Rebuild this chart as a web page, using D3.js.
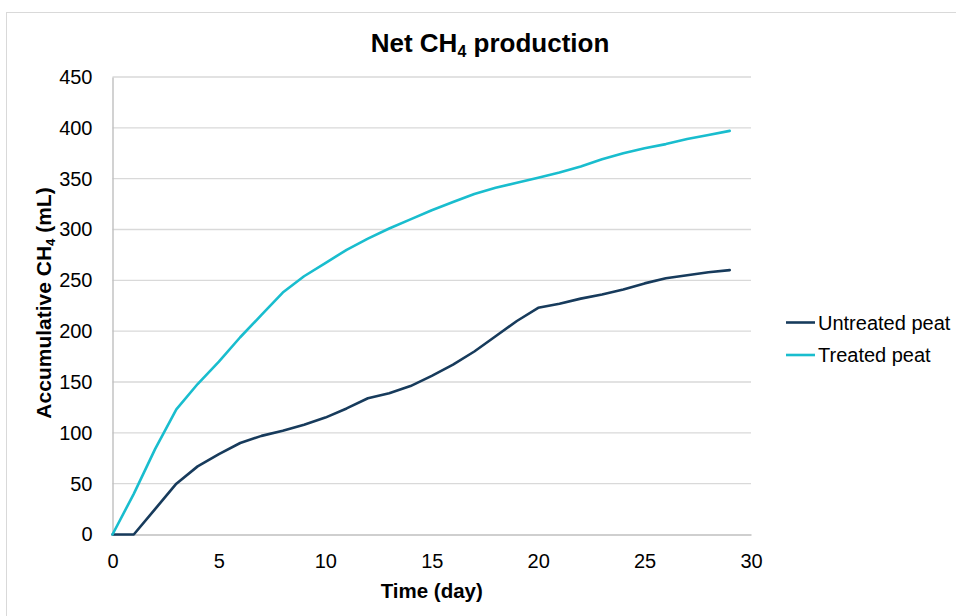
<!DOCTYPE html>
<html>
<head>
<meta charset="utf-8">
<script src="https://cdn.jsdelivr.net/npm/d3@7"></script>
<style>
  html, body { margin: 0; padding: 0; background: #fff; }
  svg { display: block; font-family: "Liberation Sans", Arial, Helvetica, sans-serif; }
</style>
</head>
<body>
<svg id="chart" width="956" height="616"></svg>
<script>
// Net CH4 production over 29 days, cumulative volume (mL)
const days = d3.range(0, 30);
const untreatedPeat = [0, 0, 25, 50, 67, 79, 90, 97, 102, 108, 115, 124, 134, 139, 146,
                       156, 167, 180, 195, 210, 223, 227, 232, 236, 241, 247, 252, 255, 258, 260];
const treatedPeat   = [0, 40, 84, 123, 148, 170, 194, 216, 238, 254, 267, 280, 291, 301, 310,
                       319, 327, 335, 341, 346, 351, 356, 362, 369, 375, 380, 384, 389, 393, 397];
const seriesNames = ["Untreated peat", "Treated peat"];
const seriesColors = ["#173b5c", "#19bdce"];
const xTicks = [0, 5, 10, 15, 20, 25, 30];
const yTicks = [0, 50, 100, 150, 200, 250, 300, 350, 400, 450];

const svg = d3.select("#chart");
const plot = { left: 112.5, right: 751, top: 77, bottom: 534.5 };

const x = d3.scaleLinear().domain([0, 30]).range([plot.left, plot.right]);
const y = d3.scaleLinear().domain([0, 450]).range([plot.bottom, plot.top]);

// chart frame
svg.append("rect")
  .attr("x", 6.5).attr("y", 12.5)
  .attr("width", 1000).attr("height", 700)
  .attr("fill", "#fff").attr("stroke", "#d9d9d9").attr("stroke-width", 1);

// horizontal gridlines
svg.append("g")
  .selectAll("line")
  .data(yTicks.filter(v => v > 0))
  .join("line")
  .attr("x1", plot.left).attr("x2", plot.right)
  .attr("y1", d => y(d)).attr("y2", d => y(d))
  .attr("stroke", "#d9d9d9").attr("stroke-width", 1.4);

// y axis
const yAxis = svg.append("g")
  .attr("transform", `translate(${plot.left},0)`)
  .call(d3.axisLeft(y).tickValues(yTicks).tickSize(0).tickPadding(20));
yAxis.select(".domain").attr("stroke", "#bfbfbf").attr("stroke-width", 1.4);
yAxis.selectAll("text").attr("font-size", 20).attr("fill", "#000")
  .attr("font-family", "'Liberation Sans', Arial, sans-serif");

// x axis
const xAxis = svg.append("g")
  .attr("transform", `translate(0,${plot.bottom})`)
  .call(d3.axisBottom(x).tickValues(xTicks).tickSize(0).tickPadding(19));
xAxis.select(".domain").attr("stroke", "#bfbfbf").attr("stroke-width", 1.4);
xAxis.selectAll("text").attr("font-size", 20).attr("fill", "#000")
  .attr("font-family", "'Liberation Sans', Arial, sans-serif");

// series lines
const line = d3.line().x((d, i) => x(days[i])).y(d => y(d));
[untreatedPeat, treatedPeat].forEach((vals, k) => {
  svg.append("path")
    .datum(vals)
    .attr("d", line)
    .attr("fill", "none")
    .attr("stroke", seriesColors[k])
    .attr("stroke-width", 2.6)
    .attr("stroke-linejoin", "round")
    .attr("stroke-linecap", "round");
});

// title
const title = svg.append("text")
  .attr("x", 490).attr("y", 52)
  .attr("text-anchor", "middle")
  .attr("font-size", 26).attr("font-weight", "bold").attr("fill", "#000");
title.append("tspan").text("Net CH");
title.append("tspan").attr("font-size", 16).attr("dy", 5).text("4");
title.append("tspan").attr("dy", -5).text(" production");

// x axis title
svg.append("text")
  .attr("x", x(15)).attr("y", 598)
  .attr("text-anchor", "middle")
  .attr("font-size", 20.5).attr("font-weight", "bold").attr("fill", "#000")
  .text("Time (day)");

// y axis title
const yTitle = svg.append("text")
  .attr("transform", `translate(51,303) rotate(-90)`)
  .attr("text-anchor", "middle")
  .attr("font-size", 21).attr("font-weight", "bold").attr("fill", "#000");
yTitle.append("tspan").text("Accumulative CH");
yTitle.append("tspan").attr("font-size", 13).attr("dy", 4).text("4");
yTitle.append("tspan").attr("dy", -4).text(" (mL)");

// legend
const legend = svg.append("g");
seriesNames.forEach((name, k) => {
  const ly = 322.5 + k * 32.5;
  legend.append("line")
    .attr("x1", 786).attr("x2", 815)
    .attr("y1", ly).attr("y2", ly)
    .attr("stroke", seriesColors[k]).attr("stroke-width", 2.6);
  legend.append("text")
    .attr("x", 818).attr("y", ly + 7)
    .attr("font-size", 20).attr("fill", "#000")
    .text(name);
});
</script>
</body>
</html>
